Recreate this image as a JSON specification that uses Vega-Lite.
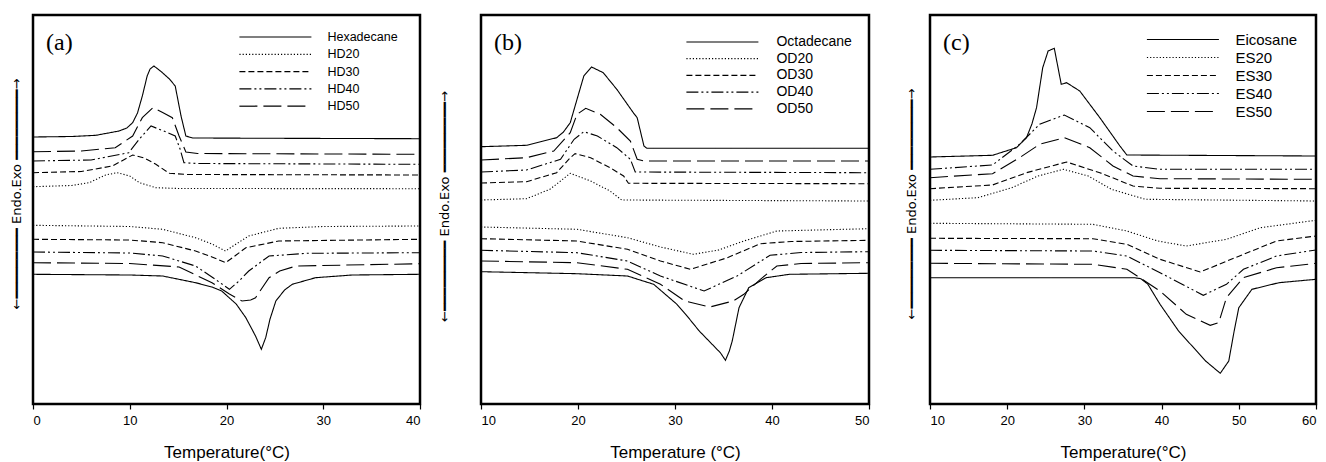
{
"$schema": "https://vega.github.io/schema/vega-lite/v6.json",
"padding": {"left": 8, "top": 13, "right": 0, "bottom": 0},
"background": "white",
"config": {
  "view": {"stroke": "black", "strokeWidth": 2.5},
  "font": "Liberation Sans",
  "axisX": {"domain": false, "grid": false, "ticks": true, "tickSize": 5, "tickColor": "black", "tickWidth": 1.2, "labelFont": "Liberation Sans", "labelFontSize": 13, "labelColor": "black", "labelPadding": 5, "titleFont": "Liberation Sans", "titleFontSize": 17, "titleFontWeight": "normal", "titleColor": "black", "titlePadding": 17},
  "axisY": {"domain": false, "grid": false, "ticks": false, "labels": false, "titleFont": "DejaVu Sans", "titleFontSize": 13, "titleFontWeight": "normal", "titleColor": "black"},
  "legend": {"orient": "none", "padding": 0, "title": null, "symbolType": "M-6,0H6", "symbolSize": 144, "symbolStrokeWidth": 1.2, "symbolStrokeColor": "black", "labelFont": "Liberation Sans", "labelColor": "black", "labelOffset": 45},
  "title": {"anchor": "start", "frame": "group", "font": "Liberation Serif", "fontSize": 24, "fontWeight": "normal", "color": "black", "offset": -40, "dx": 13, "baseline": "alphabetic"}
},
"spacing": 61,
"bounds": "flush",
"resolve": {"scale": {"strokeDash": "independent", "x": "independent", "y": "independent"}, "legend": {"strokeDash": "independent"}},
"datasets": {
 "a": [
  {"s":"Hexadecane","b":"cool","T":0,"v":267},{"s":"Hexadecane","b":"cool","T":4,"v":267.5},{"s":"Hexadecane","b":"cool","T":6.5,"v":268.7},{"s":"Hexadecane","b":"cool","T":8.9,"v":273},{"s":"Hexadecane","b":"cool","T":9.7,"v":276},{"s":"Hexadecane","b":"cool","T":10.3,"v":281.3},{"s":"Hexadecane","b":"cool","T":10.8,"v":291},{"s":"Hexadecane","b":"cool","T":11.3,"v":308},{"s":"Hexadecane","b":"cool","T":11.8,"v":328},{"s":"Hexadecane","b":"cool","T":12.1,"v":335},{"s":"Hexadecane","b":"cool","T":12.5,"v":338},{"s":"Hexadecane","b":"cool","T":13.3,"v":332},{"s":"Hexadecane","b":"cool","T":14.1,"v":325},{"s":"Hexadecane","b":"cool","T":14.7,"v":318},{"s":"Hexadecane","b":"cool","T":15.3,"v":288},{"s":"Hexadecane","b":"cool","T":15.8,"v":268},{"s":"Hexadecane","b":"cool","T":16.5,"v":266},{"s":"Hexadecane","b":"cool","T":25,"v":265.7},{"s":"Hexadecane","b":"cool","T":40,"v":265.3},
  {"s":"Hexadecane","b":"heat","T":0,"v":129.7},{"s":"Hexadecane","b":"heat","T":10,"v":129},{"s":"Hexadecane","b":"heat","T":13.4,"v":128},{"s":"Hexadecane","b":"heat","T":16.8,"v":121.3},{"s":"Hexadecane","b":"heat","T":18.5,"v":117},{"s":"Hexadecane","b":"heat","T":19.5,"v":113},{"s":"Hexadecane","b":"heat","T":21,"v":100},{"s":"Hexadecane","b":"heat","T":22,"v":86.3},{"s":"Hexadecane","b":"heat","T":23,"v":68},{"s":"Hexadecane","b":"heat","T":23.6,"v":54.7},{"s":"Hexadecane","b":"heat","T":24.05,"v":66.3},{"s":"Hexadecane","b":"heat","T":24.5,"v":85},{"s":"Hexadecane","b":"heat","T":25.1,"v":103},{"s":"Hexadecane","b":"heat","T":26,"v":114},{"s":"Hexadecane","b":"heat","T":26.8,"v":119.7},{"s":"Hexadecane","b":"heat","T":29.2,"v":126.3},{"s":"Hexadecane","b":"heat","T":33,"v":129},{"s":"Hexadecane","b":"heat","T":40,"v":129.7},
  {"s":"HD20","b":"cool","T":0,"v":217.3},{"s":"HD20","b":"cool","T":4,"v":218.5},{"s":"HD20","b":"cool","T":5.8,"v":221.3},{"s":"HD20","b":"cool","T":7.5,"v":229},{"s":"HD20","b":"cool","T":8.7,"v":231.3},{"s":"HD20","b":"cool","T":10,"v":228},{"s":"HD20","b":"cool","T":11,"v":221.3},{"s":"HD20","b":"cool","T":12.7,"v":216.3},{"s":"HD20","b":"cool","T":15,"v":215.5},{"s":"HD20","b":"cool","T":40,"v":215.3},
  {"s":"HD20","b":"heat","T":0,"v":178.7},{"s":"HD20","b":"heat","T":10,"v":177.5},{"s":"HD20","b":"heat","T":13.4,"v":174.7},{"s":"HD20","b":"heat","T":16.8,"v":166.3},{"s":"HD20","b":"heat","T":18.5,"v":160},{"s":"HD20","b":"heat","T":19.9,"v":153},{"s":"HD20","b":"heat","T":21,"v":160},{"s":"HD20","b":"heat","T":22.3,"v":168},{"s":"HD20","b":"heat","T":25.4,"v":175.7},{"s":"HD20","b":"heat","T":30,"v":177.5},{"s":"HD20","b":"heat","T":40,"v":178},
  {"s":"HD30","b":"cool","T":0,"v":231.3},{"s":"HD30","b":"cool","T":5,"v":232.5},{"s":"HD30","b":"cool","T":8.2,"v":238},{"s":"HD30","b":"cool","T":10.3,"v":249},{"s":"HD30","b":"cool","T":11.5,"v":246},{"s":"HD30","b":"cool","T":12.7,"v":239.7},{"s":"HD30","b":"cool","T":14.1,"v":230.7},{"s":"HD30","b":"cool","T":16,"v":229.5},{"s":"HD30","b":"cool","T":40,"v":229},
  {"s":"HD30","b":"heat","T":0,"v":164.7},{"s":"HD30","b":"heat","T":10,"v":164},{"s":"HD30","b":"heat","T":13.4,"v":161.3},{"s":"HD30","b":"heat","T":16.8,"v":153},{"s":"HD30","b":"heat","T":18.5,"v":147},{"s":"HD30","b":"heat","T":19.9,"v":141.3},{"s":"HD30","b":"heat","T":21,"v":149},{"s":"HD30","b":"heat","T":22,"v":156.3},{"s":"HD30","b":"heat","T":25.4,"v":163},{"s":"HD30","b":"heat","T":40,"v":164.7},
  {"s":"HD40","b":"cool","T":0,"v":243},{"s":"HD40","b":"cool","T":6,"v":244},{"s":"HD40","b":"cool","T":9.9,"v":251.3},{"s":"HD40","b":"cool","T":11,"v":265},{"s":"HD40","b":"cool","T":12.2,"v":278},{"s":"HD40","b":"cool","T":13.5,"v":273},{"s":"HD40","b":"cool","T":14.7,"v":268},{"s":"HD40","b":"cool","T":15.2,"v":255},{"s":"HD40","b":"cool","T":15.6,"v":241.3},{"s":"HD40","b":"cool","T":17,"v":240.5},{"s":"HD40","b":"cool","T":40,"v":239.7},
  {"s":"HD40","b":"heat","T":0,"v":152},{"s":"HD40","b":"heat","T":10,"v":151},{"s":"HD40","b":"heat","T":13.4,"v":148},{"s":"HD40","b":"heat","T":16.8,"v":138},{"s":"HD40","b":"heat","T":18.8,"v":125},{"s":"HD40","b":"heat","T":20.3,"v":114.7},{"s":"HD40","b":"heat","T":21.3,"v":123},{"s":"HD40","b":"heat","T":22.3,"v":133},{"s":"HD40","b":"heat","T":24.4,"v":148},{"s":"HD40","b":"heat","T":28.3,"v":150.7},{"s":"HD40","b":"heat","T":40,"v":151.3},
  {"s":"HD50","b":"cool","T":0,"v":252.3},{"s":"HD50","b":"cool","T":5,"v":253},{"s":"HD50","b":"cool","T":8.5,"v":256.3},{"s":"HD50","b":"cool","T":10.3,"v":268},{"s":"HD50","b":"cool","T":11.3,"v":286.3},{"s":"HD50","b":"cool","T":12.4,"v":296.3},{"s":"HD50","b":"cool","T":13.4,"v":291.5},{"s":"HD50","b":"cool","T":14.4,"v":286.3},{"s":"HD50","b":"cool","T":15.1,"v":268},{"s":"HD50","b":"cool","T":15.8,"v":252},{"s":"HD50","b":"cool","T":17,"v":250.5},{"s":"HD50","b":"cool","T":40,"v":249.7},
  {"s":"HD50","b":"heat","T":0,"v":141.3},{"s":"HD50","b":"heat","T":10,"v":140.5},{"s":"HD50","b":"heat","T":15.1,"v":137},{"s":"HD50","b":"heat","T":18.5,"v":121.3},{"s":"HD50","b":"heat","T":20.3,"v":110},{"s":"HD50","b":"heat","T":21.6,"v":103},{"s":"HD50","b":"heat","T":22.5,"v":104},{"s":"HD50","b":"heat","T":23,"v":106.3},{"s":"HD50","b":"heat","T":24.4,"v":126.3},{"s":"HD50","b":"heat","T":25.5,"v":133},{"s":"HD50","b":"heat","T":27.2,"v":138},{"s":"HD50","b":"heat","T":40,"v":140.3}
 ],
 "b": [
  {"s":"Octadecane","b":"cool","T":10,"v":257.3},{"s":"Octadecane","b":"cool","T":14.7,"v":258.7},{"s":"Octadecane","b":"cool","T":17.8,"v":266.3},{"s":"Octadecane","b":"cool","T":18.5,"v":272},{"s":"Octadecane","b":"cool","T":19.2,"v":281.3},{"s":"Octadecane","b":"cool","T":19.9,"v":304.7},{"s":"Octadecane","b":"cool","T":20.6,"v":328},{"s":"Octadecane","b":"cool","T":21.4,"v":337},{"s":"Octadecane","b":"cool","T":22.6,"v":331.3},{"s":"Octadecane","b":"cool","T":24,"v":314.7},{"s":"Octadecane","b":"cool","T":25.7,"v":291.3},{"s":"Octadecane","b":"cool","T":26.1,"v":286.3},{"s":"Octadecane","b":"cool","T":26.8,"v":258},{"s":"Octadecane","b":"cool","T":27.1,"v":255.7},{"s":"Octadecane","b":"cool","T":50,"v":255.7},
  {"s":"Octadecane","b":"heat","T":10,"v":132.3},{"s":"Octadecane","b":"heat","T":19.9,"v":130.3},{"s":"Octadecane","b":"heat","T":25.1,"v":128},{"s":"Octadecane","b":"heat","T":27.8,"v":119.7},{"s":"Octadecane","b":"heat","T":30.2,"v":99.7},{"s":"Octadecane","b":"heat","T":31.1,"v":89.7},{"s":"Octadecane","b":"heat","T":32.5,"v":73},{"s":"Octadecane","b":"heat","T":34.7,"v":51},{"s":"Octadecane","b":"heat","T":35.2,"v":43.7},{"s":"Octadecane","b":"heat","T":35.6,"v":53},{"s":"Octadecane","b":"heat","T":35.9,"v":63},{"s":"Octadecane","b":"heat","T":36.6,"v":96.3},{"s":"Octadecane","b":"heat","T":37.6,"v":116.3},{"s":"Octadecane","b":"heat","T":39.4,"v":126.3},{"s":"Octadecane","b":"heat","T":41.8,"v":129.7},{"s":"Octadecane","b":"heat","T":50,"v":130.7},
  {"s":"OD20","b":"cool","T":10,"v":204},{"s":"OD20","b":"cool","T":14.7,"v":205.3},{"s":"OD20","b":"cool","T":17.1,"v":214.7},{"s":"OD20","b":"cool","T":18.2,"v":223},{"s":"OD20","b":"cool","T":19.2,"v":230.7},{"s":"OD20","b":"cool","T":21.3,"v":223},{"s":"OD20","b":"cool","T":23.3,"v":213},{"s":"OD20","b":"cool","T":24.5,"v":204},{"s":"OD20","b":"cool","T":50,"v":203},
  {"s":"OD20","b":"heat","T":10,"v":177},{"s":"OD20","b":"heat","T":19.9,"v":174.7},{"s":"OD20","b":"heat","T":25.1,"v":166.3},{"s":"OD20","b":"heat","T":28.5,"v":157},{"s":"OD20","b":"heat","T":31.9,"v":149.7},{"s":"OD20","b":"heat","T":34.5,"v":154},{"s":"OD20","b":"heat","T":37.1,"v":163},{"s":"OD20","b":"heat","T":40.5,"v":173},{"s":"OD20","b":"heat","T":50,"v":175.3},
  {"s":"OD30","b":"cool","T":10,"v":221},{"s":"OD30","b":"cool","T":14.7,"v":222.3},{"s":"OD30","b":"cool","T":17.8,"v":231.3},{"s":"OD30","b":"cool","T":19.2,"v":246.3},{"s":"OD30","b":"cool","T":19.7,"v":250.3},{"s":"OD30","b":"cool","T":21.3,"v":246.3},{"s":"OD30","b":"cool","T":23.3,"v":236.3},{"s":"OD30","b":"cool","T":24.7,"v":228},{"s":"OD30","b":"cool","T":25.2,"v":220.7},{"s":"OD30","b":"cool","T":50,"v":220.3},
  {"s":"OD30","b":"heat","T":10,"v":165.3},{"s":"OD30","b":"heat","T":19.9,"v":163},{"s":"OD30","b":"heat","T":25.1,"v":154.7},{"s":"OD30","b":"heat","T":28.5,"v":143},{"s":"OD30","b":"heat","T":31.6,"v":134.7},{"s":"OD30","b":"heat","T":35.4,"v":146.3},{"s":"OD30","b":"heat","T":38.8,"v":160.3},{"s":"OD30","b":"heat","T":42,"v":162.5},{"s":"OD30","b":"heat","T":50,"v":163.7},
  {"s":"OD40","b":"cool","T":10,"v":232},{"s":"OD40","b":"cool","T":14.7,"v":234},{"s":"OD40","b":"cool","T":18.2,"v":244.7},{"s":"OD40","b":"cool","T":19.6,"v":264.7},{"s":"OD40","b":"cool","T":20.6,"v":272.3},{"s":"OD40","b":"cool","T":22,"v":268},{"s":"OD40","b":"cool","T":24,"v":256.3},{"s":"OD40","b":"cool","T":25.4,"v":244.7},{"s":"OD40","b":"cool","T":25.9,"v":232},{"s":"OD40","b":"cool","T":50,"v":231.3},
  {"s":"OD40","b":"heat","T":10,"v":153.7},{"s":"OD40","b":"heat","T":19.9,"v":151.3},{"s":"OD40","b":"heat","T":25.1,"v":143},{"s":"OD40","b":"heat","T":28.5,"v":128},{"s":"OD40","b":"heat","T":33,"v":113},{"s":"OD40","b":"heat","T":36.4,"v":128},{"s":"OD40","b":"heat","T":39.8,"v":148.7},{"s":"OD40","b":"heat","T":43,"v":151.5},{"s":"OD40","b":"heat","T":50,"v":152.3},
  {"s":"OD50","b":"cool","T":10,"v":244},{"s":"OD50","b":"cool","T":14.7,"v":246.3},{"s":"OD50","b":"cool","T":17.5,"v":253},{"s":"OD50","b":"cool","T":19.2,"v":271.3},{"s":"OD50","b":"cool","T":19.9,"v":289.7},{"s":"OD50","b":"cool","T":20.8,"v":295.7},{"s":"OD50","b":"cool","T":22.3,"v":289.7},{"s":"OD50","b":"cool","T":24,"v":276.3},{"s":"OD50","b":"cool","T":25.4,"v":263},{"s":"OD50","b":"cool","T":26.1,"v":244.7},{"s":"OD50","b":"cool","T":26.8,"v":243},{"s":"OD50","b":"cool","T":50,"v":243},
  {"s":"OD50","b":"heat","T":10,"v":143},{"s":"OD50","b":"heat","T":19.9,"v":141.3},{"s":"OD50","b":"heat","T":25.1,"v":134.7},{"s":"OD50","b":"heat","T":28.5,"v":119.7},{"s":"OD50","b":"heat","T":31,"v":103},{"s":"OD50","b":"heat","T":33.6,"v":97},{"s":"OD50","b":"heat","T":36,"v":103},{"s":"OD50","b":"heat","T":37.1,"v":109.7},{"s":"OD50","b":"heat","T":38.8,"v":124.7},{"s":"OD50","b":"heat","T":40.5,"v":138},{"s":"OD50","b":"heat","T":43,"v":140.5},{"s":"OD50","b":"heat","T":50,"v":141.3}
 ],
 "c": [
  {"s":"Eicosane","b":"cool","T":10,"v":247},{"s":"Eicosane","b":"cool","T":18.1,"v":248.7},{"s":"Eicosane","b":"cool","T":21.2,"v":256.3},{"s":"Eicosane","b":"cool","T":22.5,"v":266.3},{"s":"Eicosane","b":"cool","T":23.2,"v":280},{"s":"Eicosane","b":"cool","T":23.8,"v":296.3},{"s":"Eicosane","b":"cool","T":24.6,"v":336.3},{"s":"Eicosane","b":"cool","T":25.3,"v":353},{"s":"Eicosane","b":"cool","T":26.1,"v":355.7},{"s":"Eicosane","b":"cool","T":27,"v":319.7},{"s":"Eicosane","b":"cool","T":27.7,"v":321.3},{"s":"Eicosane","b":"cool","T":29.4,"v":313},{"s":"Eicosane","b":"cool","T":32,"v":286.3},{"s":"Eicosane","b":"cool","T":34.6,"v":258},{"s":"Eicosane","b":"cool","T":35.5,"v":249},{"s":"Eicosane","b":"cool","T":60,"v":248},
  {"s":"Eicosane","b":"heat","T":10,"v":126.3},{"s":"Eicosane","b":"heat","T":36.5,"v":126.3},{"s":"Eicosane","b":"heat","T":37.3,"v":125.3},{"s":"Eicosane","b":"heat","T":38.2,"v":120},{"s":"Eicosane","b":"heat","T":39.8,"v":99.7},{"s":"Eicosane","b":"heat","T":42.2,"v":73},{"s":"Eicosane","b":"heat","T":45.7,"v":43},{"s":"Eicosane","b":"heat","T":47.6,"v":30.7},{"s":"Eicosane","b":"heat","T":48.7,"v":43},{"s":"Eicosane","b":"heat","T":49.4,"v":73},{"s":"Eicosane","b":"heat","T":50,"v":96.3},{"s":"Eicosane","b":"heat","T":51.7,"v":114.7},{"s":"Eicosane","b":"heat","T":55.2,"v":121.3},{"s":"Eicosane","b":"heat","T":60,"v":124.7},
  {"s":"ES20","b":"cool","T":10,"v":203.7},{"s":"ES20","b":"cool","T":16.2,"v":206.3},{"s":"ES20","b":"cool","T":20.6,"v":216.3},{"s":"ES20","b":"cool","T":24,"v":228},{"s":"ES20","b":"cool","T":27.3,"v":234.7},{"s":"ES20","b":"cool","T":30.5,"v":228},{"s":"ES20","b":"cool","T":33.5,"v":214.7},{"s":"ES20","b":"cool","T":37.9,"v":204.7},{"s":"ES20","b":"cool","T":60,"v":203},
  {"s":"ES20","b":"heat","T":10,"v":180.7},{"s":"ES20","b":"heat","T":31.1,"v":179.7},{"s":"ES20","b":"heat","T":35.5,"v":173},{"s":"ES20","b":"heat","T":39.5,"v":163},{"s":"ES20","b":"heat","T":43.2,"v":158},{"s":"ES20","b":"heat","T":48.4,"v":164.7},{"s":"ES20","b":"heat","T":52.8,"v":176.3},{"s":"ES20","b":"heat","T":60,"v":183.7},
  {"s":"ES30","b":"cool","T":10,"v":215.3},{"s":"ES30","b":"cool","T":18.1,"v":219},{"s":"ES30","b":"cool","T":22.5,"v":231.3},{"s":"ES30","b":"cool","T":27.7,"v":242},{"s":"ES30","b":"cool","T":32,"v":231.3},{"s":"ES30","b":"cool","T":36.3,"v":218},{"s":"ES30","b":"cool","T":39.8,"v":215.7},{"s":"ES30","b":"cool","T":60,"v":215.3},
  {"s":"ES30","b":"heat","T":10,"v":165.7},{"s":"ES30","b":"heat","T":31.1,"v":165.3},{"s":"ES30","b":"heat","T":35.5,"v":159.7},{"s":"ES30","b":"heat","T":39.8,"v":144.7},{"s":"ES30","b":"heat","T":45,"v":132},{"s":"ES30","b":"heat","T":50.6,"v":149.7},{"s":"ES30","b":"heat","T":54.9,"v":163},{"s":"ES30","b":"heat","T":60,"v":168},
  {"s":"ES40","b":"cool","T":10,"v":234.7},{"s":"ES40","b":"cool","T":18.1,"v":239},{"s":"ES40","b":"cool","T":21.6,"v":259.7},{"s":"ES40","b":"cool","T":24.2,"v":279.7},{"s":"ES40","b":"cool","T":27.4,"v":289},{"s":"ES40","b":"cool","T":30.7,"v":276.3},{"s":"ES40","b":"cool","T":33.7,"v":253},{"s":"ES40","b":"cool","T":36.3,"v":238},{"s":"ES40","b":"cool","T":39.8,"v":234.7},{"s":"ES40","b":"cool","T":60,"v":234.7},
  {"s":"ES40","b":"heat","T":10,"v":153.7},{"s":"ES40","b":"heat","T":31.1,"v":153},{"s":"ES40","b":"heat","T":35.5,"v":148},{"s":"ES40","b":"heat","T":39.8,"v":131.3},{"s":"ES40","b":"heat","T":45.4,"v":108.7},{"s":"ES40","b":"heat","T":48.4,"v":119.7},{"s":"ES40","b":"heat","T":50.6,"v":134.7},{"s":"ES40","b":"heat","T":54.9,"v":148},{"s":"ES40","b":"heat","T":60,"v":154},
  {"s":"ES50","b":"cool","T":10,"v":226.3},{"s":"ES50","b":"cool","T":18.1,"v":230.3},{"s":"ES50","b":"cool","T":21.6,"v":246.3},{"s":"ES50","b":"cool","T":24.2,"v":259.7},{"s":"ES50","b":"cool","T":27.4,"v":266.3},{"s":"ES50","b":"cool","T":30.7,"v":256.3},{"s":"ES50","b":"cool","T":33.7,"v":238},{"s":"ES50","b":"cool","T":36.3,"v":228},{"s":"ES50","b":"cool","T":39.8,"v":225.3},{"s":"ES50","b":"cool","T":60,"v":224.7},
  {"s":"ES50","b":"heat","T":10,"v":140.7},{"s":"ES50","b":"heat","T":31.1,"v":139.7},{"s":"ES50","b":"heat","T":35.5,"v":134.7},{"s":"ES50","b":"heat","T":39.8,"v":113},{"s":"ES50","b":"heat","T":43.2,"v":89.7},{"s":"ES50","b":"heat","T":46.3,"v":78.7},{"s":"ES50","b":"heat","T":47.4,"v":81.3},{"s":"ES50","b":"heat","T":48.4,"v":106.3},{"s":"ES50","b":"heat","T":50.6,"v":126.3},{"s":"ES50","b":"heat","T":54.9,"v":136.3},{"s":"ES50","b":"heat","T":60,"v":140.7}
 ]
},
"hconcat": [
 {
  "width": 387, "height": 389,
  "title": {"text": "(a)"},
  "data": {"name": "a"},
  "mark": {"type": "line", "color": "black", "strokeWidth": 1.1},
  "encoding": {
   "x": {"field": "T", "type": "quantitative", "scale": {"domain": [0, 40], "nice": false, "zero": false}, "axis": {"values": [0, 10, 20, 30, 40], "title": "Temperature(°C)"}},
   "y": {"field": "v", "type": "quantitative", "scale": {"domain": [0, 389], "nice": false, "zero": false}, "axis": {"title": "←━━━━━━━━━ Endo.Exo ━━━━━━━━━→", "titlePadding": 10, "titleY": 178.5}},
   "strokeDash": {"field": "s", "type": "nominal", "scale": {"domain": ["Hexadecane", "HD20", "HD30", "HD40", "HD50"], "range": [[1, 0], [1.2, 2], [6, 3], [12, 3, 2, 3, 2, 3], [18, 6]]}, "legend": {"legendX": 235.4, "legendY": 15, "labelFontSize": 12.5, "rowPadding": 3.3}},
   "detail": {"field": "b", "type": "nominal"}
  }
 },
 {
  "width": 388, "height": 389,
  "title": {"text": "(b)"},
  "data": {"name": "b"},
  "mark": {"type": "line", "color": "black", "strokeWidth": 1.1},
  "encoding": {
   "x": {"field": "T", "type": "quantitative", "scale": {"domain": [10, 50], "nice": false, "zero": false}, "axis": {"values": [10, 20, 30, 40, 50], "title": "Temperature (°C)"}},
   "y": {"field": "v", "type": "quantitative", "scale": {"domain": [0, 389], "nice": false, "zero": false}, "axis": {"title": "←━━━━━━━━━ Endo.Exo ━━━━━━━━━→", "titlePadding": 30, "titleY": 191}},
   "strokeDash": {"field": "s", "type": "nominal", "scale": {"domain": ["Octadecane", "OD20", "OD30", "OD40", "OD50"], "range": [[1, 0], [1.2, 2], [6, 3], [12, 3, 2, 3, 2, 3], [18, 6]]}, "legend": {"legendX": 234.4, "legendY": 20, "labelFontSize": 14, "labelOffset": 47, "rowPadding": 2.7}},
   "detail": {"field": "b", "type": "nominal"}
  }
 },
 {
  "width": 386, "height": 389,
  "title": {"text": "(c)"},
  "data": {"name": "c"},
  "mark": {"type": "line", "color": "black", "strokeWidth": 1.1},
  "encoding": {
   "x": {"field": "T", "type": "quantitative", "scale": {"domain": [10, 60], "nice": false, "zero": false}, "axis": {"values": [10, 20, 30, 40, 50, 60], "title": "Temperature(°C)"}},
   "y": {"field": "v", "type": "quantitative", "scale": {"domain": [0, 389], "nice": false, "zero": false}, "axis": {"title": "←━━━━━━━━━ Endo.Exo ━━━━━━━━━→", "titlePadding": 12, "titleY": 188.5}},
   "strokeDash": {"field": "s", "type": "nominal", "scale": {"domain": ["Eicosane", "ES20", "ES30", "ES40", "ES50"], "range": [[1, 0], [1.2, 2], [6, 3], [12, 3, 2, 3, 2, 3], [18, 6]]}, "legend": {"legendX": 245.4, "legendY": 17, "labelFontSize": 15, "rowPadding": 2}},
   "detail": {"field": "b", "type": "nominal"}
  }
 }
]
}
